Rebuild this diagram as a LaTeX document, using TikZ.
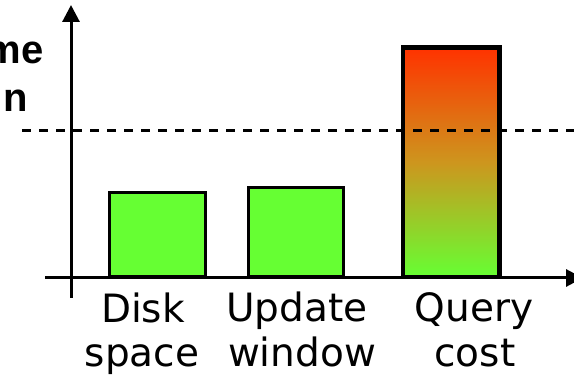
\documentclass[tikz,border=0pt]{standalone}
\usepackage{fontspec}
\setmainfont{DejaVu Sans}
\newfontfamily\headfont{Liberation Sans}
\usetikzlibrary{arrows.meta}
\definecolor{bargreen}{HTML}{66FF33}
\definecolor{barred}{HTML}{FF3300}
\tikzset{
  axis/.style={line width=3pt, -{Triangle[length=17pt,width=17pt]}},
  bar/.style={draw=black, line width=3pt, inner sep=0pt, anchor=south west},
  limitline/.style={line width=3pt, dash pattern=on 9pt off 8pt},
  cat/.style={font=\fontsize{39}{44}\selectfont, anchor=base, inner sep=0pt},
  side/.style={font=\headfont\bfseries\fontsize{40}{48}\selectfont, anchor=base east, inner sep=0pt}
}
\begin{document}
\begin{tikzpicture}[x=1pt, y=-1pt]
\useasboundingbox (0,0) rectangle (574,382);

% clipped side caption
\node[side] (cap1) at (44,64) {me};
\node[side] (cap2) at (28,112) {n};

% threshold
\coordinate (t0) at (22,131);
\coordinate (t1) at (580,131);
\draw[limitline] (t0) -- (t1);

% bars
\node[bar, fill=bargreen, minimum width=96pt, minimum height=84pt] (disk) at (108,278) {};
\node[bar, fill=bargreen, minimum width=95pt, minimum height=89pt] (upd) at (247,278) {};
\node[bar, top color=barred, bottom color=bargreen, middle color={rgb,255:red,205;green,150;blue,30}, minimum width=95pt, minimum height=228pt] (query) at (402,278) {};
\draw[limitline] (t0) -- (t1);
\draw[line width=3pt] (query.north west) rectangle (query.south east);

% axes
\coordinate (yb) at (71,298);
\coordinate (yt) at (71,5);
\coordinate (xl) at (45,278);
\coordinate (xr) at (583,278);
\draw[axis] (yb) -- (yt);
\draw[axis] (xl) -- (xr);

% category labels
\node[cat] (l1a) at (143,323) {Disk};
\node[cat] (l1b) at (142,367) {space};
\node[cat] (l2a) at (297,322) {Update};
\node[cat] (l2b) at (302,367) {window};
\node[cat] (l3a) at (474,322) {Query};
\node[cat] (l3b) at (475,367) {cost};
\end{tikzpicture}
\end{document}
